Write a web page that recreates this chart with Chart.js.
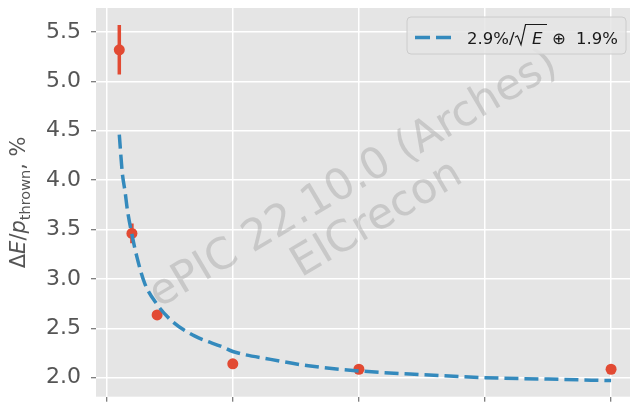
<!DOCTYPE html>
<html>
<head>
<meta charset="utf-8">
<script src="https://cdn.jsdelivr.net/npm/chart.js@4.4.0/dist/chart.umd.min.js"></script>
<style>
  html, body { margin: 0; padding: 0; background: #ffffff; }
  #wrap { width: 630px; height: 405px; position: relative; }
</style>
</head>
<body>
<div id="wrap"><canvas id="resChart"></canvas></div>
<script>
// measured points: energy (GeV) vs relative resolution (%)
const energies = [0.5, 1, 2, 5, 10, 20];
const resolution = [5.32, 3.46, 2.635, 2.14, 2.085, 2.085];
const resolutionErr = [0.25, 0.1, 0.05, 0.02, 0.02, 0.02];

// fit curve
const fitE = [0.5, 0.62, 0.73, 0.82, 1.0, 1.2, 1.5, 2.0, 2.6, 3.5, 4.6, 5.0, 6.5, 8.0, 10, 12.5, 15, 17.5, 20];
const fitRes = [4.46, 4.07, 3.88, 3.70, 3.45, 3.22, 2.96, 2.74, 2.57, 2.42, 2.31, 2.265, 2.185, 2.12, 2.068, 2.03, 2.0, 1.985, 1.97];

const xTicks = [0, 5, 10, 15, 20];
const yTicks = [2.0, 2.5, 3.0, 3.5, 4.0, 4.5, 5.0, 5.5];

// legend text pieces: before the root, under the root, after it
const legendLabel = ['2.9%/', 'E', '\u2295', '1.9%'];
const watermarkLines = ['ePIC 22.10.0 (Arches)', 'EICrecon'];

const RED = '#E24A33';
const BLUE = '#348ABD';

// gray panel behind the plot
const panelBg = {
    id: 'panelBg',
    beforeDraw(chart) {
        const a = chart.chartArea;
        const ctx = chart.ctx;
        ctx.save();
        ctx.fillStyle = '#E5E5E5';
        ctx.fillRect(a.left, a.top, a.right - a.left, a.bottom - a.top);
        ctx.restore();
    }
};

// watermark + error bars under the markers
const underlay = {
    id: 'underlay',
    beforeDatasetsDraw(chart) {
        const ctx = chart.ctx;
        const a = chart.chartArea;
        ctx.save();
        ctx.beginPath();
        ctx.rect(a.left, a.top, a.right - a.left, a.bottom - a.top);
        ctx.clip();

        // watermark
        ctx.translate(365, 199);
        ctx.rotate(-30.6 * Math.PI / 180);
        ctx.fillStyle = 'rgba(160,160,160,0.42)';
        ctx.font = '43px "DejaVu Sans"';
        ctx.textAlign = 'center';
        ctx.textBaseline = 'middle';
        ctx.fillText(watermarkLines[0], 0, -22);
        ctx.fillText(watermarkLines[1], 0, 24);
        ctx.setTransform(1, 0, 0, 1, 0, 0);

        // error bars
        const xs = chart.scales.x, ys = chart.scales.y;
        ctx.strokeStyle = RED;
        ctx.lineWidth = 3.5;
        energies.forEach((e, i) => {
            const px = xs.getPixelForValue(e);
            ctx.beginPath();
            ctx.moveTo(px, ys.getPixelForValue(resolution[i] - resolutionErr[i]));
            ctx.lineTo(px, ys.getPixelForValue(resolution[i] + resolutionErr[i]));
            ctx.stroke();
        });
        ctx.restore();
    }
};

// y axis title with subscript, and the legend box
const overlay = {
    id: 'overlay',
    afterDraw(chart) {
        const ctx = chart.ctx;
        const a = chart.chartArea;

        // y title: ΔE/p_thrown, %
        ctx.save();
        ctx.fillStyle = '#555555';
        ctx.textBaseline = 'alphabetic';
        const big = '21px "DejaVu Sans"';
        const ital = 'italic 21px "DejaVu Sans"';
        const small = '14.5px "DejaVu Sans"';
        const parts = [
            { t: '\u0394', f: big, dy: 0 },
            { t: 'E', f: ital, dy: 0 },
            { t: '/', f: big, dy: 0 },
            { t: 'p', f: ital, dy: 0 },
            { t: 'thrown', f: small, dy: 4.5 },
            { t: ', %', f: big, dy: 0 }
        ];
        let total = 0;
        parts.forEach(p => { ctx.font = p.f; p.w = ctx.measureText(p.t).width; total += p.w; });
        ctx.translate(25, (a.top + a.bottom) / 2);
        ctx.rotate(-Math.PI / 2);
        let cx = -total / 2;
        parts.forEach(p => {
            ctx.font = p.f;
            ctx.fillText(p.t, cx, p.dy);
            cx += p.w;
        });
        ctx.restore();

        // legend
        ctx.save();
        const bx = 407, by = 17, bw = 219, bh = 37;
        ctx.beginPath();
        ctx.roundRect(bx, by, bw, bh, 4);
        ctx.fillStyle = 'rgba(229,229,229,0.85)';
        ctx.fill();
        ctx.strokeStyle = '#CCCCCC';
        ctx.lineWidth = 1;
        ctx.stroke();

        const ly = by + 20.5;
        ctx.strokeStyle = BLUE;
        ctx.lineWidth = 3.5;
        ctx.setLineDash([15, 6]);
        ctx.beginPath();
        ctx.moveTo(415, ly);
        ctx.lineTo(451, ly);
        ctx.stroke();
        ctx.setLineDash([]);

        const tx = 467, base = by + 27.3;
        ctx.fillStyle = '#1a1a1a';
        ctx.textBaseline = 'alphabetic';
        ctx.font = '16.5px "DejaVu Sans"';
        ctx.fillText(legendLabel[0], tx, base);
        // radical sign with bar over E
        ctx.strokeStyle = '#1a1a1a';
        ctx.lineWidth = 1.2;
        ctx.lineJoin = 'miter';
        ctx.beginPath();
        ctx.moveTo(tx + 48, base - 7);
        ctx.lineTo(tx + 50.5, base - 8.5);
        ctx.lineTo(tx + 54, base + 0.5);
        ctx.lineTo(tx + 58.5, by + 7.5);
        ctx.lineTo(tx + 80, by + 7.5);
        ctx.stroke();
        ctx.font = 'italic 16.5px "DejaVu Sans"';
        ctx.fillText(legendLabel[1], tx + 65, base);
        ctx.font = '16.5px "DejaVu Sans"';
        ctx.fillText(legendLabel[2], tx + 85, base);
        ctx.fillText(legendLabel[3], tx + 109, base);
        ctx.restore();
    }
};

const ctx = document.getElementById('resChart').getContext('2d');
new Chart(ctx, {
    type: 'scatter',
    data: {
        datasets: [{
            label: 'fit',
            data: fitE.map((e, i) => ({ x: e, y: fitRes[i] })),
            showLine: true,
            borderColor: BLUE,
            borderWidth: 3.5,
            borderDash: [14, 6],
            pointRadius: 0,
            cubicInterpolationMode: 'monotone',
            order: 0
        }, {
            label: 'data',
            data: energies.map((e, i) => ({ x: e, y: resolution[i] })),
            backgroundColor: RED,
            borderColor: RED,
            pointRadius: 5.5,
            borderWidth: 0,
            order: 1
        }]
    },
    options: {
        responsive: true,
        maintainAspectRatio: false,
        animation: false,
        devicePixelRatio: 1,
        layout: { autoPadding: false, padding: { top: 8, right: 0, left: 0, bottom: 0 } },
        plugins: {
            legend: { display: false },
            tooltip: { enabled: false }
        },
        scales: {
            x: {
                type: 'linear',
                min: -0.424,
                max: 20.75,
                afterBuildTicks: s => { s.ticks = xTicks.map(v => ({ value: v })); },
                afterFit: s => { s.height = 8.3; s.paddingLeft = 0; s.paddingRight = 0; },
                border: { display: false },
                grid: { color: '#FFFFFF', lineWidth: 1.5, tickLength: 5, tickColor: '#555555', tickWidth: 1 },
                ticks: { callback: () => '', padding: 0 }
            },
            y: {
                min: 1.807,
                max: 5.743,
                afterBuildTicks: s => { s.ticks = yTicks.map(v => ({ value: v })); },
                afterFit: s => { s.width = 96; s.paddingTop = 0; s.paddingBottom = 0; },
                border: { display: false },
                grid: { color: '#FFFFFF', lineWidth: 1.5, tickLength: 5, tickColor: '#555555', tickWidth: 1 },
                ticks: {
                    color: '#555555',
                    padding: 10,
                    font: { family: 'DejaVu Sans', size: 22 },
                    callback: v => Number(v).toFixed(1)
                }
            }
        }
    },
    plugins: [panelBg, underlay, overlay]
});
</script>
</body>
</html>
